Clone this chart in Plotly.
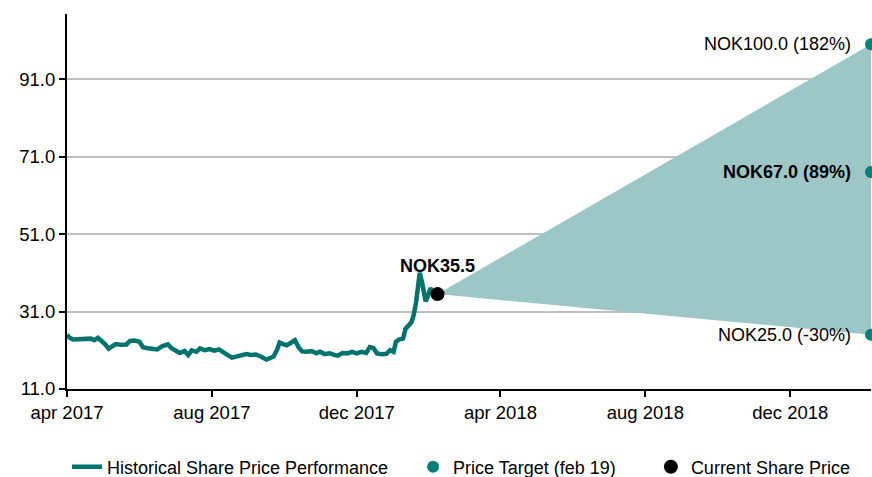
import plotly.graph_objects as go

# historical share price (NOK)
hist_dates = [
    "2017-04-01", "2017-04-03", "2017-04-06", "2017-04-11", "2017-04-16", "2017-04-21",
    "2017-04-24", "2017-04-27", "2017-04-30", "2017-05-03", "2017-05-06", "2017-05-09",
    "2017-05-12", "2017-05-16", "2017-05-21", "2017-05-24", "2017-05-28", "2017-06-01",
    "2017-06-04", "2017-06-08", "2017-06-12", "2017-06-16", "2017-06-20", "2017-06-25",
    "2017-06-28", "2017-07-02", "2017-07-05", "2017-07-09", "2017-07-12", "2017-07-15",
    "2017-07-19", "2017-07-22", "2017-07-26", "2017-07-30", "2017-08-03", "2017-08-07",
    "2017-08-10", "2017-08-14", "2017-08-18", "2017-08-22", "2017-08-26", "2017-08-30",
    "2017-09-03", "2017-09-07", "2017-09-11", "2017-09-14", "2017-09-16", "2017-09-19",
    "2017-09-22", "2017-09-25", "2017-09-27", "2017-09-30", "2017-10-03", "2017-10-07",
    "2017-10-10", "2017-10-13", "2017-10-16", "2017-10-20", "2017-10-24", "2017-10-28",
    "2017-10-31", "2017-11-04", "2017-11-08", "2017-11-12", "2017-11-15", "2017-11-19",
    "2017-11-23", "2017-11-27", "2017-12-01", "2017-12-05", "2017-12-09", "2017-12-12",
    "2017-12-15", "2017-12-18", "2017-12-22", "2017-12-26", "2017-12-29", "2018-01-01",
    "2018-01-03", "2018-01-06", "2018-01-09", "2018-01-11", "2018-01-14", "2018-01-16",
    "2018-01-18", "2018-01-20", "2018-01-22", "2018-01-23", "2018-01-25", "2018-01-27",
    "2018-01-28", "2018-01-30", "2018-02-01", "2018-02-03", "2018-02-05", "2018-02-07",
]
hist_prices = [
    25.0, 24.3, 23.8, 23.9, 23.8, 24.0,
    23.6, 24.2, 23.4, 22.6, 21.4, 22.0,
    22.6, 22.4, 22.5, 23.4, 23.5, 23.2,
    21.8, 21.5, 21.4, 21.2, 22.0, 22.5,
    21.5, 20.8, 20.3, 20.8, 19.8, 21.0,
    20.6, 21.5, 21.0, 21.3, 20.9, 21.2,
    20.5, 19.8, 19.1, 19.5, 19.6, 20.0,
    19.8, 19.9, 19.4, 19.1, 18.6, 19.0,
    19.4, 21.2, 23.0, 22.6, 22.3, 23.0,
    23.6, 21.8, 20.7, 20.6, 20.8, 20.2,
    20.6, 20.0, 20.2, 19.8, 19.6, 20.3,
    20.2, 20.6, 20.2, 20.6, 20.3, 21.8,
    21.6, 20.2, 20.0, 20.1, 21.0, 20.6,
    23.2, 23.8, 24.0, 26.5, 27.6, 28.2,
    30.2, 33.5, 38.5, 41.0, 38.5, 35.0,
    33.6, 35.0, 37.0, 36.0, 34.8, 35.5,
]

current_date = "2018-02-07"
current_price = 35.5
current_label = "NOK35.5"

target_date = "2019-02-07"
target_prices = [100.0, 67.0, 25.0]
target_labels = ["NOK100.0 (182%)", "<b>NOK67.0 (89%)</b>", "NOK25.0 (-30%)"]

tick_dates = ["2017-04-01", "2017-08-01", "2017-12-01", "2018-04-01", "2018-08-01", "2018-12-01"]
tick_labels = ["apr 2017", "aug 2017", "dec 2017", "apr 2018", "aug 2018", "dec 2018"]
y_ticks = [11, 31, 51, 71, 91]

TEAL = "#00736f"
FAN = "#9dc7c7"
FONT = "Liberation Sans, Arial, sans-serif"
NB = "\u00a0"  # used to widen legend entries
W, H = 872, 477

fig = go.Figure()

# fan between current price and bear / bull targets
fig.add_trace(go.Scatter(
    x=[current_date, target_date, target_date, current_date],
    y=[current_price, max(target_prices), min(target_prices), current_price],
    fill="toself", fillcolor=FAN, mode="none", showlegend=False, hoverinfo="skip",
))

fig.add_trace(go.Scatter(
    x=hist_dates, y=hist_prices, mode="lines",
    line=dict(color=TEAL, width=4.5),
    name="Historical Share Price Performance" + NB * 4,
))

fig.add_trace(go.Scatter(
    x=[target_date] * len(target_prices), y=target_prices, mode="markers",
    marker=dict(color="#00807a", size=12),
    name="Price Target (feb 19)" + NB * 6, cliponaxis=False,
))

fig.add_trace(go.Scatter(
    x=[current_date], y=[current_price], mode="markers",
    marker=dict(color="black", size=14),
    name="Current Share Price", cliponaxis=False,
))

for p, lab in zip(target_prices, target_labels):
    fig.add_annotation(x=target_date, y=p, text=lab, showarrow=False,
                       xanchor="right", yanchor="middle", xshift=-18,
                       font=dict(size=18, color="black"))

fig.add_annotation(x=current_date, y=current_price, text="<b>" + current_label + "</b>",
                   showarrow=False, xanchor="center", yanchor="middle", yshift=28, xshift=0,
                   font=dict(size=18, color="black"))

fig.update_xaxes(
    range=["2017-04-01", target_date], automargin=False,
    tickvals=tick_dates, ticktext=tick_labels,
    showgrid=False, showline=True, linecolor="black", linewidth=2,
    ticks="outside", ticklen=6, tickwidth=2, tickcolor="black",
    tickfont=dict(size=18.5, color="black"), zeroline=False,
)
fig.update_yaxes(
    range=[11, 107.8], automargin=False,
    tickvals=y_ticks, tickformat=".1f",
    showgrid=True, gridcolor="#c0c0c0", gridwidth=2,
    showline=True, linecolor="black", linewidth=2,
    ticks="outside", ticklen=6, tickwidth=2, tickcolor="black",
    tickfont=dict(size=18.5, color="black"), zeroline=False,
)

fig.update_layout(
    width=W, height=H,
    margin=dict(l=67, r=1, t=14, b=88, autoexpand=False),
    plot_bgcolor="white", paper_bgcolor="white",
    font=dict(family=FONT, size=18, color="black"),
    legend=dict(orientation="h", x=0, xanchor="left", y=-0.208, yanchor="middle",
                font=dict(size=18), bgcolor="rgba(0,0,0,0)"),
)

fig.write_html(
    "out.html",
    config={"displayModeBar": False, "responsive": False},
    post_script="var gd=document.getElementById('{plot_id}');"
                "document.body.style.margin='0';document.body.style.overflow='hidden';"
                "gd.style.width='%dpx';gd.style.height='%dpx';"
                "Plotly.relayout(gd, {width: %d, height: %d});" % (W, H, W, H),
)
